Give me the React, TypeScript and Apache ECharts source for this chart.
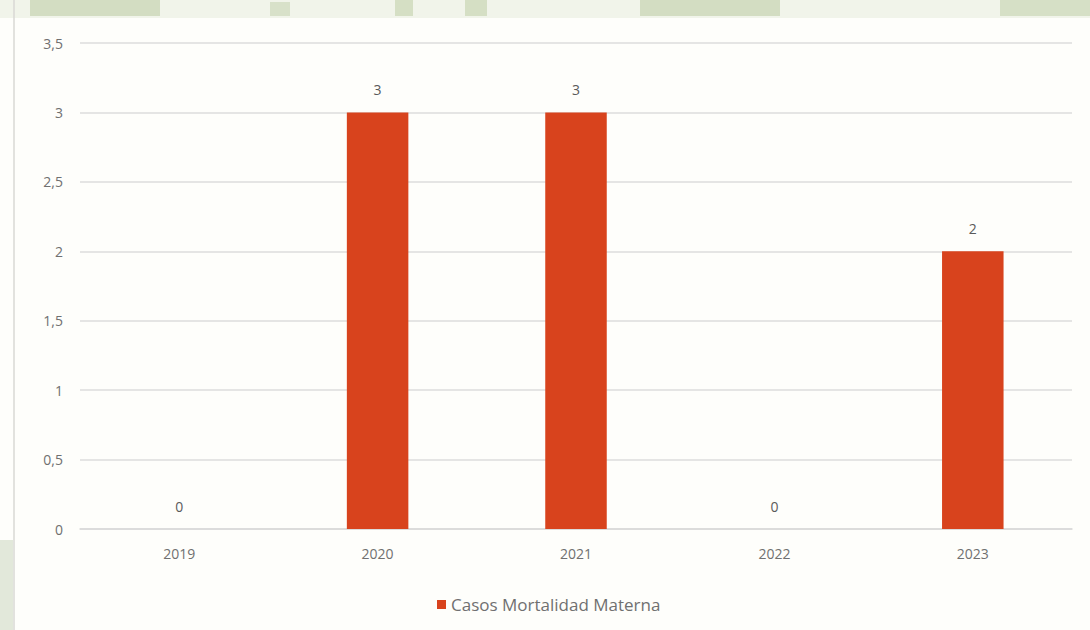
import React, { useEffect, useRef } from "react";
import * as echarts from "echarts";

const categories = ["2019", "2020", "2021", "2022", "2023"];
const casos = [0, 3, 3, 0, 2];
const seriesName = "Casos Mortalidad Materna";

export default function App() {
  const ref = useRef<HTMLDivElement>(null);
  useEffect(() => {
    if (!ref.current) return;
    const chart = echarts.init(ref.current, undefined, { renderer: "svg" });
    const font = "'Open Sans', Lato, sans-serif";
    chart.setOption({
      animation: false,
      backgroundColor: "#fefefb",
      textStyle: { fontFamily: font },
      graphic: [
        { type: "rect", shape: { x: 0, y: 0, width: 1090, height: 18 }, style: { fill: "#f1f4ea" }, silent: true },
        { type: "rect", shape: { x: 30, y: 0, width: 130, height: 16 }, style: { fill: "#d3ddc2" }, silent: true },
        { type: "rect", shape: { x: 270, y: 2, width: 20, height: 14 }, style: { fill: "#d8e1c9" }, silent: true },
        { type: "rect", shape: { x: 395, y: 0, width: 18, height: 16 }, style: { fill: "#d5dfc4" }, silent: true },
        { type: "rect", shape: { x: 465, y: 0, width: 22, height: 16 }, style: { fill: "#d5dfc4" }, silent: true },
        { type: "rect", shape: { x: 640, y: 0, width: 140, height: 16 }, style: { fill: "#d3ddc2" }, silent: true },
        { type: "rect", shape: { x: 1000, y: 0, width: 90, height: 16 }, style: { fill: "#d6e0c6" }, silent: true },
        { type: "rect", shape: { x: 0, y: 540, width: 13, height: 90 }, style: { fill: "#e2e8da" }, silent: true },
        { type: "line", shape: { x1: 14, y1: 0, x2: 14, y2: 630 }, style: { stroke: "#d8d8d4", lineWidth: 1.5 }, silent: true },
      ],
      grid: { left: 80, right: 18, top: 43, bottom: 101, containLabel: false },
      legend: {
        bottom: 12,
        left: 432,
        itemWidth: 9,
        itemHeight: 9,
        icon: "rect",
        itemGap: 6,
        textStyle: { color: "#707070", fontSize: 17, fontFamily: font },
        data: [seriesName],
      },
      xAxis: {
        type: "category",
        data: categories,
        axisLine: { show: true, lineStyle: { color: "#d9d9d9", width: 1.5 } },
        axisTick: { show: false },
        axisLabel: { color: "#707070", fontSize: 14, margin: 17, fontFamily: font },
      },
      yAxis: {
        type: "value",
        min: 0,
        max: 3.5,
        interval: 0.5,
        axisLine: { show: false },
        axisTick: { show: false },
        splitLine: { lineStyle: { color: "#dcdcdc", width: 1.5 } },
        axisLabel: {
          color: "#707070",
          fontSize: 14,
          margin: 17,
          fontFamily: font,
          formatter: (v: number) => String(v).replace(".", ","),
        },
      },
      series: [
        {
          name: seriesName,
          type: "bar",
          data: casos,
          barWidth: "31%",
          itemStyle: { color: "#d8431d" },
          label: {
            show: true,
            position: "top",
            distance: 16,
            color: "#5a5a5a",
            fontSize: 14,
            fontFamily: font,
          },
        },
      ],
    });
    return () => chart.dispose();
  }, []);
  return <div ref={ref} style={{ width: 1090, height: 630, position: "absolute", left: 0, top: 0 }} />;
}
